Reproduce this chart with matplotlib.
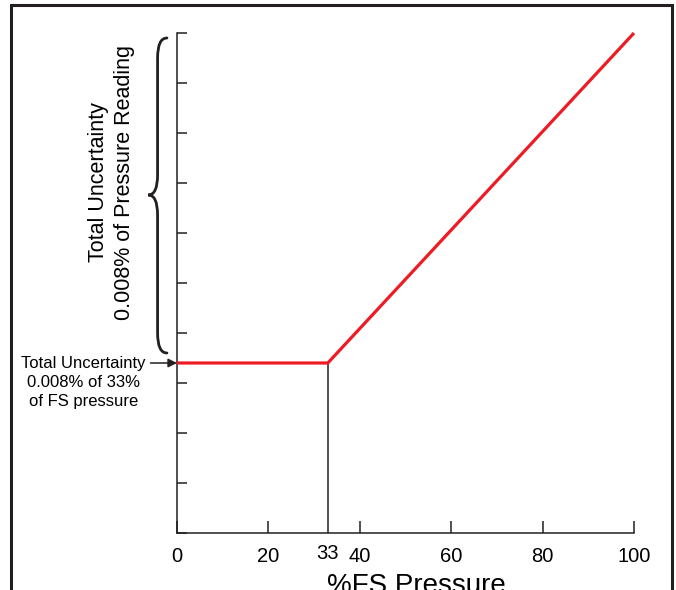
import matplotlib
matplotlib.use("Agg")
import matplotlib.pyplot as plt
from matplotlib.patches import Rectangle, PathPatch
from matplotlib.path import Path

plt.rcParams['font.family'] = ['Liberation Sans', 'DejaVu Sans']

# data
fs_pressure = [0, 33, 100]
uncertainty = [3.4, 3.4, 10]
knee_x = 33
x_ticks = [0, 20, 40, 60, 80, 100]
y_ticks = list(range(0, 11))

ink = '#231f20'
red = '#ed1c24'

fig = plt.figure(figsize=(6.76, 5.90), dpi=100)
ax = fig.add_axes([177 / 676, 57 / 590, 457 / 676, 500 / 590])

ax.plot(fs_pressure, uncertainty, color=red, lw=2.3, solid_capstyle='butt',
        zorder=3, clip_on=False)
ax.plot([knee_x, knee_x], [0, uncertainty[1]], color=ink, lw=1.1, zorder=2)

ax.set_xlim(0, 100)
ax.set_ylim(0, 10)
for s in ['top', 'right']:
    ax.spines[s].set_visible(False)
for s in ['left', 'bottom']:
    ax.spines[s].set_color(ink)
    ax.spines[s].set_linewidth(1.1)

ax.set_xticks(x_ticks)
ax.set_xticks([knee_x], minor=True)
ax.set_xticklabels([str(t) for t in x_ticks], fontsize=14.5)
ax.set_xticklabels([str(knee_x)], minor=True, fontsize=14.5)
ax.tick_params(axis='x', which='major', direction='in', length=9, width=1.1,
               color=ink, pad=10)
ax.tick_params(axis='x', which='minor', direction='in', length=0, pad=8)
ax.set_yticks(y_ticks)
ax.set_yticklabels([])
ax.tick_params(axis='y', direction='in', length=7.5, width=1.1, color=ink)

ax.set_xlabel('%FS Pressure', fontsize=20)
ax.xaxis.set_label_coords(0.524, -0.08)

# rotated label on the left
ax.text(-14.4, 7.02, 'Total Uncertainty\n0.008% of Pressure Reading',
        rotation=90, ha='center', va='center', multialignment='center',
        fontsize=15.5, linespacing=1.3, clip_on=False)

# curly brace from quadratic curves
bx_end, bx_tip = -2.2, -6.3
by_top, by_mid, by_bot = 9.9, 6.76, 3.6
bm = (bx_end + bx_tip) / 2
half = 0.4
verts = [
    (bx_end, by_top),
    (bm, by_top), (bm, by_top - half),
    (bm, by_mid + half),
    (bm, by_mid), (bx_tip, by_mid),
    (bm, by_mid), (bm, by_mid - half),
    (bm, by_bot + half),
    (bm, by_bot), (bx_end, by_bot),
]
codes = [Path.MOVETO,
         Path.CURVE3, Path.CURVE3,
         Path.LINETO,
         Path.CURVE3, Path.CURVE3,
         Path.CURVE3, Path.CURVE3,
         Path.LINETO,
         Path.CURVE3, Path.CURVE3]
ax.add_patch(PathPatch(Path(verts, codes), fill=False, ec=ink, lw=2.0,
                       capstyle='round', clip_on=False))

# annotation with arrow
ax.annotate('', xy=(0, uncertainty[0]), xytext=(-5.8, uncertainty[0]),
            arrowprops=dict(arrowstyle='-|>', color=ink, lw=1.1,
                            mutation_scale=13, shrinkA=0, shrinkB=0),
            annotation_clip=False)
ax.text(-20.5, uncertainty[0] + 0.14,
        'Total Uncertainty\n0.008% of 33%\nof FS pressure',
        ha='center', va='top', multialignment='center', fontsize=12,
        linespacing=1.32, clip_on=False)

# outer frame
fig.add_artist(Rectangle((11 / 676, -0.05), 661 / 676, 0.05 + 585 / 590,
                         transform=fig.transFigure, fill=False, ec=ink,
                         lw=2.2))

fig.savefig('out.png', dpi=100)
